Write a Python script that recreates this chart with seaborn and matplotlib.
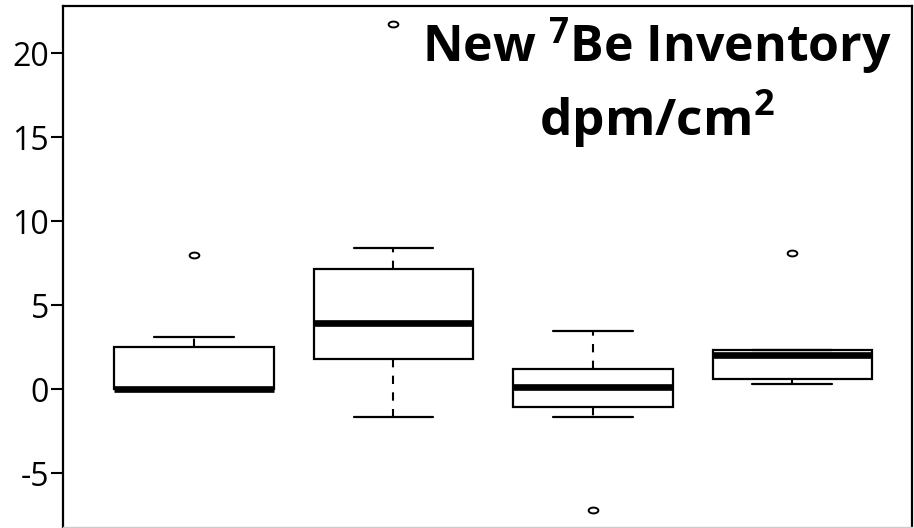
import numpy as np
import pandas as pd
import seaborn as sns
import matplotlib
matplotlib.use("Agg")
import matplotlib.pyplot as plt
from matplotlib.path import Path

# New 7Be inventory per site group (dpm/cm^2)
group_names = ["A", "B", "C", "D"]
inventory_a = [0.0, 0.0, 0.0, 0.0, 0.0, 1.2, 2.5, 3.1, 8.0]
inventory_b = [-1.67, 0.5, 1.79, 3.0, 3.93, 5.5, 7.14, 8.4, 21.7]
inventory_c = [-7.2, -1.67, -1.07, -0.5, 0.12, 0.8, 1.19, 2.5, 3.45]
inventory_d = [0.3, 0.45, 0.6, 1.5, 2.05, 2.1, 2.3, 2.3, 8.1]
y_ticks = [-5, 0, 5, 10, 15, 20]

df = pd.DataFrame({
    "group": np.repeat(group_names, [len(inventory_a), len(inventory_b),
                                     len(inventory_c), len(inventory_d)]),
    "value": inventory_a + inventory_b + inventory_c + inventory_d,
})

sns.set_style("white")
plt.rcParams["font.family"] = ["Open Sans", "DejaVu Sans"]
plt.rcParams["text.color"] = "black"
plt.rcParams["ytick.color"] = "black"
plt.rcParams["ytick.labelcolor"] = "black"
plt.rcParams["mathtext.fontset"] = "custom"
plt.rcParams["mathtext.rm"] = "Open Sans"
plt.rcParams["mathtext.bf"] = "Open Sans:bold"

# slightly flattened open circle for outliers
t = np.linspace(0, 2 * np.pi, 40)
ellipse = Path(np.column_stack([np.cos(t), 0.6 * np.sin(t)]), closed=True)

fig = plt.figure(figsize=(9.14, 5.28), dpi=100)
ax = fig.add_axes([63 / 914, 1 / 528, (912 - 63) / 914, (527 - 6) / 528])

sns.boxplot(
    data=df, x="group", y="value", ax=ax,
    color="white", linecolor="black", linewidth=1.5, width=0.8, whis=1.5,
    boxprops=dict(linewidth=1.6),
    medianprops=dict(color="black", linewidth=4.8, solid_capstyle="butt"),
    whiskerprops=dict(color="black", linewidth=1.5, linestyle=(0, (4, 4))),
    capprops=dict(color="black", linewidth=1.6),
    flierprops=dict(marker=ellipse, markersize=7, markerfacecolor="white",
                    markeredgecolor="black", markeredgewidth=1.4),
)

ax.set_xlim(-0.657, 3.6)
ax.set_ylim(-8.21, 22.8)
ax.set_yticks(y_ticks)
ax.set_yticklabels([str(v) for v in y_ticks])
ax.set_xticks([])
ax.set_xlabel("")
ax.set_ylabel("")
ax.tick_params(axis="y", direction="out", length=9, width=1.5, labelsize=23,
               pad=1, left=True, colors="black")

for side in ["left", "top", "right"]:
    ax.spines[side].set_color("black")
    ax.spines[side].set_linewidth(1.6)
ax.spines["bottom"].set_color("#cccccc")
ax.spines["bottom"].set_linewidth(1.0)

fig.text(657 / 914, 1 - 46 / 528, r"New $^{\mathbf{7}}$Be Inventory",
         ha="center", va="center", fontsize=36, fontweight="bold", color="black")
fig.text(657 / 914, 1 - 119 / 528, r"dpm/cm$^{\mathbf{2}}$",
         ha="center", va="center", fontsize=37, fontweight="bold", color="black")

fig.savefig("out.png", dpi=100)
